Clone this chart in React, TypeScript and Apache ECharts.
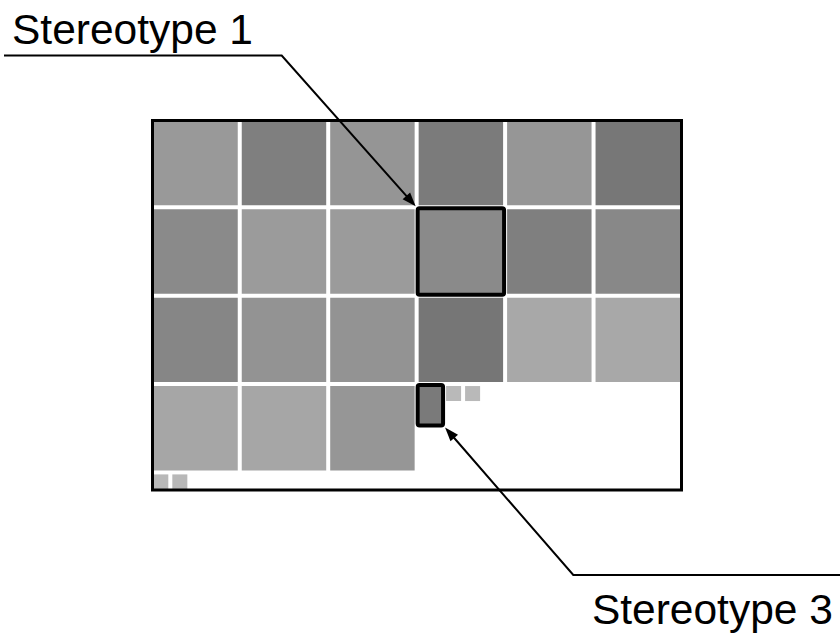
import React, { useEffect, useRef } from "react";
import * as echarts from "echarts";

// Grey level (0-255) of each full-size cell, by row (top to bottom) and column (left to right)
const bigCellGrays: number[][] = [
  [0x99, 0x7f, 0x95, 0x7b, 0x96, 0x77],
  [0x8a, 0x9b, 0x9b, 0x8a, 0x7f, 0x88],
  [0x86, 0x93, 0x93, 0x76, 0xa8, 0xa8],
  [0xa6, 0xa6, 0x96],
];

// Smaller cells, in grid units (one full cell = 1)
const smallCellX = [3, 3.31, 3.525, 0, 0.215];
const smallCellY = [3, 3, 3, 4, 4];
const smallCellW = [0.31, 0.215, 0.215, 0.215, 0.215];
const smallCellH = [0.48, 0.215, 0.215, 0.215, 0.215];
const smallCellGrays = [0x7a, 0xb9, 0xb9, 0xb8, 0xb8];

// Annotated cells
const stereotypeLabels = ["Stereotype 1", "Stereotype 3"];
const stereotypeCell = [
  { kind: "big", row: 1, col: 3 },
  { kind: "small", index: 0 },
];

const GRID_COLS = 6;
const GRID_ROWS_MAX = 4.2;

function grey(v: number) {
  const h = v.toString(16).padStart(2, "0");
  return "#" + h + h + h;
}

export default function App() {
  const ref = useRef<HTMLDivElement>(null);

  useEffect(() => {
    if (!ref.current) return;
    const chart = echarts.init(ref.current, undefined, { renderer: "svg" });

    const data: any[] = [];
    const idx: Record<string, number> = {};
    bigCellGrays.forEach((row, r) =>
      row.forEach((g, c) => {
        idx["big-" + r + "-" + c] = data.length;
        data.push({ value: [c, r, 1, 1, g, 0] });
      })
    );
    smallCellX.forEach((x, i) => {
      idx["small-" + i] = data.length;
      data.push({ value: [x, smallCellY[i], smallCellW[i], smallCellH[i], smallCellGrays[i], 0] });
    });
    const targets = stereotypeCell.map((s: any) =>
      s.kind === "big" ? idx["big-" + s.row + "-" + s.col] : idx["small-" + s.index]
    );
    targets.forEach((t) => (data[t].value[5] = 1));

    const GAP = 4;

    chart.setOption({
      animation: false,
      backgroundColor: "#ffffff",
      grid: { left: 153.3, top: 121, width: 530.7, height: 371.07, show: false },
      xAxis: { type: "value", min: 0, max: GRID_COLS, show: false },
      yAxis: { type: "value", min: 0, max: GRID_ROWS_MAX, inverse: true, show: false },
      series: [
        {
          type: "custom",
          coordinateSystem: "cartesian2d",
          encode: { x: 0, y: 1 },
          data,
          renderItem: (params: any, api: any) => {
            const x0 = api.value(0);
            const y0 = api.value(1);
            const w = api.value(2);
            const h = api.value(3);
            const g = api.value(4);
            const hl = api.value(5);
            const p0 = api.coord([x0, y0]);
            const p1 = api.coord([x0 + w, y0 + h]);
            const rw = p1[0] - p0[0] - GAP;
            const rh = p1[1] - p0[1] - GAP;
            const children: any[] = [
              {
                type: "rect",
                shape: { x: p0[0], y: p0[1], width: rw, height: rh },
                style: { fill: grey(g) },
              },
            ];
            if (hl) {
              children.push({
                type: "rect",
                z2: 10,
                shape: { x: p0[0] - 1, y: p0[1] - 1, width: rw + 2, height: rh + 2, r: 2 },
                style: { fill: "none", stroke: "#000", lineWidth: 4 },
              });
            }
            return { type: "group", children };
          },
        },
      ],
    });

    // annotation geometry, tied to the highlighted cells
    const corner = (t: number, far: boolean) => {
      const v = data[t].value;
      const p0 = chart.convertToPixel({ seriesIndex: 0 }, [v[0], v[1]]) as number[];
      const p1 = chart.convertToPixel({ seriesIndex: 0 }, [v[0] + v[2], v[1] + v[3]]) as number[];
      return far ? [p1[0] - GAP + 3, p1[1] - GAP + 3] : [p0[0] - 3, p0[1] - 3];
    };
    const tip1 = corner(targets[0], false);
    const tip3 = corner(targets[1], true);
    const elbow1 = [281.7, 55.5];
    const elbow3 = [573.3, 575];

    const arrowHead = (from: number[], tip: number[]) => {
      const dx = tip[0] - from[0];
      const dy = tip[1] - from[1];
      const len = Math.hypot(dx, dy);
      const ux = dx / len;
      const uy = dy / len;
      const L = 14;
      const W = 5;
      const bx = tip[0] - L * ux;
      const by = tip[1] - L * uy;
      return [
        [tip[0], tip[1]],
        [bx - W * uy, by + W * ux],
        [bx + W * uy, by - W * ux],
      ];
    };
    const lineEnd = (from: number[], tip: number[]) => {
      const dx = tip[0] - from[0];
      const dy = tip[1] - from[1];
      const len = Math.hypot(dx, dy);
      return [tip[0] - (dx / len) * 10, tip[1] - (dy / len) * 10];
    };

    const font = "'Liberation Sans', Arial, Helvetica, sans-serif";

    chart.setOption({
      graphic: [
        {
          type: "rect",
          z: 100,
          shape: { x: 152.5, y: 120.5, width: 529, height: 369.5 },
          style: { fill: "none", stroke: "#000", lineWidth: 3 },
        },
        {
          type: "polyline",
          z: 100,
          shape: { points: [[4, 55.5], elbow1, lineEnd(elbow1, tip1)] },
          style: { fill: "none", stroke: "#000", lineWidth: 2 },
        },
        {
          type: "polygon",
          z: 100,
          shape: { points: arrowHead(elbow1, tip1) },
          style: { fill: "#000" },
        },
        {
          type: "polyline",
          z: 100,
          shape: { points: [[840, 575], elbow3, lineEnd(elbow3, tip3)] },
          style: { fill: "none", stroke: "#000", lineWidth: 2 },
        },
        {
          type: "polygon",
          z: 100,
          shape: { points: arrowHead(elbow3, tip3) },
          style: { fill: "#000" },
        },
        {
          type: "text",
          z: 100,
          x: 132.5,
          y: 29,
          style: {
            text: stereotypeLabels[0],
            fontFamily: font,
            fontSize: 42.5,
            fill: "#000",
            align: "center",
            verticalAlign: "middle",
          },
        },
        {
          type: "text",
          z: 100,
          x: 712.4,
          y: 609,
          style: {
            text: stereotypeLabels[1],
            fontFamily: font,
            fontSize: 42.5,
            fill: "#000",
            align: "center",
            verticalAlign: "middle",
          },
        },
      ],
    });

    return () => chart.dispose();
  }, []);

  return (
    <div
      ref={ref}
      style={{ position: "absolute", left: 0, top: 0, width: 840, height: 635 }}
    />
  );
}
